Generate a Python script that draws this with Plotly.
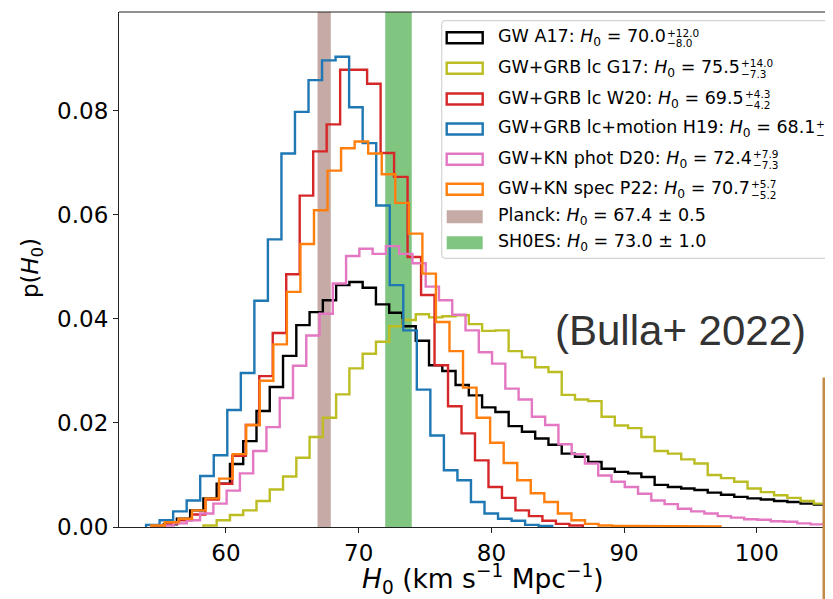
import numpy as np
import plotly.graph_objects as go

# ---------------- data ----------------
names = ["GW A17", "GW+GRB lc G17", "GW+GRB lc W20", "GW+GRB lc+motion H19",
         "GW+KN phot D20", "GW+KN spec P22"]
h0_med = ["70.0", "75.5", "69.5", "68.1", "72.4", "70.7"]
h0_up = ["+12.0", "+14.0", "+4.3", "+4.5", "+7.9", "+5.7"]
h0_lo = ["\u22128.0", "\u22127.3", "\u22124.2", "\u22124.3", "\u22127.3", "\u22125.2"]
colors = ["#000000", "#bcbd22", "#d62728", "#1f77b4", "#e377c2", "#ff7f0e"]

# histogram bin starts / widths (H0 units)
bin_start = [55.3, 58.3, 54.38, 53.98, 55.05, 54.38]
bin_width = [1.0, 1.0, 1.016, 1.02, 1.0, 1.021]

a17 = [0.0005, 0.0016, 0.0032, 0.0055, 0.0083, 0.0121, 0.0165, 0.0223, 0.0269, 0.0329,
       0.0388, 0.0413, 0.0436, 0.0465, 0.0471, 0.0460, 0.0428, 0.0412, 0.0386, 0.0358,
       0.0311, 0.0300, 0.0273, 0.0253, 0.0230, 0.0221, 0.0194, 0.0183, 0.0170, 0.0158,
       0.0141, 0.0135, 0.0125, 0.0112, 0.0106, 0.0103, 0.0096, 0.0081, 0.0077, 0.0074,
       0.0071, 0.0066, 0.0062, 0.0058, 0.0055, 0.0053, 0.0050, 0.0048, 0.0045, 0.0043,
       0.0040]
g17 = [0.0003, 0.0013, 0.0023, 0.0032, 0.0050, 0.0072, 0.0097, 0.0133, 0.0173, 0.0210,
       0.0255, 0.0305, 0.0333, 0.0356, 0.0386, 0.0398, 0.0409, 0.0403, 0.0405, 0.0407,
       0.0390, 0.0377, 0.0378, 0.0338, 0.0326, 0.0307, 0.0298, 0.0254, 0.0245, 0.0242,
       0.0212, 0.0195, 0.0190, 0.0173, 0.0146, 0.0141, 0.0130, 0.0122, 0.0100, 0.0094,
       0.0087, 0.0074, 0.0067, 0.0061, 0.0056, 0.0050, 0.0045, 0.0042]
w20 = [0.0003, 0.0007, 0.0013, 0.0024, 0.0053, 0.0083, 0.0137, 0.0196, 0.0290, 0.0373,
       0.0486, 0.0637, 0.0722, 0.0774, 0.0879, 0.0879, 0.0852, 0.0719, 0.0673, 0.0519,
       0.0446, 0.0311, 0.0232, 0.0180, 0.0128, 0.0077, 0.0056, 0.0032, 0.0021, 0.0012,
       0.0006, 0.0003]
h19 = [0.0004, 0.0013, 0.0030, 0.0051, 0.0098, 0.0138, 0.0225, 0.0296, 0.0435, 0.0553,
       0.0718, 0.0798, 0.0859, 0.0897, 0.0904, 0.0807, 0.0738, 0.0618, 0.0465, 0.0378,
       0.0264, 0.0176, 0.0109, 0.0090, 0.0048, 0.0026, 0.0016, 0.0012, 0.0004, 0.0002]
d20 = [0.0003, 0.0007, 0.0013, 0.0026, 0.0045, 0.0070, 0.0103, 0.0146, 0.0192, 0.0248,
       0.0310, 0.0368, 0.0410, 0.0468, 0.0521, 0.0535, 0.0525, 0.0540, 0.0525, 0.0507,
       0.0462, 0.0436, 0.0408, 0.0378, 0.0336, 0.0314, 0.0266, 0.0245, 0.0212, 0.0196,
       0.0159, 0.0140, 0.0122, 0.0099, 0.0087, 0.0077, 0.0064, 0.0051, 0.0044, 0.0035,
       0.0030, 0.0026, 0.0021, 0.0018, 0.0015, 0.0014, 0.0011, 0.0010, 0.0007, 0.0005,
       0.0008]
p22 = [0.0003, 0.0009, 0.0016, 0.0032, 0.0055, 0.0093, 0.0140, 0.0196, 0.0281, 0.0351,
       0.0452, 0.0544, 0.0609, 0.0685, 0.0728, 0.0741, 0.0718, 0.0678, 0.0623, 0.0564,
       0.0487, 0.0394, 0.0338, 0.0268, 0.0210, 0.0162, 0.0123, 0.0090, 0.0065, 0.0048,
       0.0026, 0.0013, 0.0006, 0.0003, 0.0002, 0.0002, 0.0001, 0.0001, 0.0001, 0.0001,
       0.0001, 0.0001]
series = [a17, g17, w20, h19, d20, p22]

planck_h0, planck_err = 67.4, 0.5
shoes_h0, shoes_err = 73.0, 1.0
band_labels = ["Planck", "SH0ES"]

x_ticks = [60, 70, 80, 90, 100]
y_ticks = [0.00, 0.02, 0.04, 0.06, 0.08]
x_range = [51.94, 105.74]
y_range = [0.0, 0.099]

# ---------------- layout geometry ----------------
# the page body has an 8px margin, so the figure is sized to end at the window edge
OFF = 8
W, H = 833 - OFF, 599 - OFF
ML, MR, MT, MB = 111, 0, 4, 72
PW, PH = W - ML - MR, H - MT - MB
FONT = "DejaVu Sans"
X0_WIN = OFF + ML            # left edge of plot in window pixels
Y1_WIN = OFF + H - MB        # bottom edge of plot in window pixels


def px2x(px):
    return (px - X0_WIN) / PW


def py2y(py):
    return (Y1_WIN - py) / PH


def step_xy(start, width, vals):
    v = np.asarray(vals, dtype=float)
    edges = start + width * np.arange(len(v) + 1)
    xs = np.repeat(edges, 2)
    ys = np.concatenate([[0.0], np.repeat(v, 2), [0.0]])
    return xs, ys


fig = go.Figure()
for s0, bw, vals, col, nm in zip(bin_start, bin_width, series, colors, names):
    xs, ys = step_xy(s0, bw, vals)
    fig.add_trace(go.Scatter(x=xs, y=ys, mode="lines", name=nm,
                             line=dict(color=col, width=2.4),
                             hoverinfo="skip", showlegend=False))

# reference bands
fig.add_vrect(x0=planck_h0 - planck_err, x1=planck_h0 + planck_err,
              fillcolor="rgba(140,86,75,0.5)", line_width=0, layer="below")
fig.add_vrect(x0=shoes_h0 - shoes_err, x1=shoes_h0 + shoes_err,
              fillcolor="rgba(44,160,44,0.6)", line_width=0, layer="below")

shapes = []
annotations = []

# top spine
shapes.append(dict(type="line", xref="paper", yref="paper", x0=0, x1=1.02, y0=1, y1=1,
                   line=dict(color="#222222", width=1.2), layer="above"))

# ---------------- custom legend ----------------
lx0, lx1, ly0, ly1, rad = 441.7, 860, 20.7, 258.3, 4
path = (f"M {px2x(lx0 + rad)},{py2y(ly0)} L {px2x(lx1)},{py2y(ly0)} "
        f"L {px2x(lx1)},{py2y(ly1)} L {px2x(lx0 + rad)},{py2y(ly1)} "
        f"Q {px2x(lx0)},{py2y(ly1)} {px2x(lx0)},{py2y(ly1 - rad)} "
        f"L {px2x(lx0)},{py2y(ly0 + rad)} "
        f"Q {px2x(lx0)},{py2y(ly0)} {px2x(lx0 + rad)},{py2y(ly0)} Z")
shapes.append(dict(type="path", xref="paper", yref="paper", path=path,
                   fillcolor="rgba(255,255,255,0.9)", line=dict(color="#d4d4d4", width=1.2),
                   layer="above"))

row_y = [37.7, 68.3, 99.0, 129.0, 159.3, 189.3, 216.7, 242.7]
sw_x0, sw_x1, text_x = 446.7, 482.7, 496.0
LFS = 17.5          # legend font size
SFS = 10.5          # stacked super/subscript font size

# DejaVu Sans advance widths (em) for width estimate of the legend strings
cw = {" ": .318, "+": .838, "-": .361, ":": .337, ".": .318, "=": .838, "A": .684,
      "B": .686, "D": .770, "G": .775, "H": .752, "K": .656, "N": .748, "P": .603,
      "R": .695, "W": .989, "c": .550, "h": .634, "i": .278, "l": .278, "m": .974,
      "n": .634, "o": .612, "p": .635, "s": .521, "t": .392}


def str_w(s):
    return sum(cw.get(ch, .636) for ch in s)


for i, (nm, med, up, lo, col) in enumerate(zip(names, h0_med, h0_up, h0_lo, colors)):
    yc = row_y[i]
    shapes.append(dict(type="rect", xref="paper", yref="paper",
                       x0=px2x(sw_x0), x1=px2x(sw_x1), y0=py2y(yc + 5.5), y1=py2y(yc - 5.5),
                       line=dict(color=col, width=2.4), fillcolor="rgba(0,0,0,0)", layer="above"))
    annotations.append(dict(xref="paper", yref="paper", x=px2x(text_x), y=py2y(yc),
                            xanchor="left", yanchor="middle", showarrow=False,
                            text=f"{nm}: <i>H</i><sub>0</sub> = {med}",
                            font=dict(family=FONT, size=LFS, color="black")))
    wem = str_w(nm + ": ") + .752 + 0.7 * .636 + str_w(" = ") + str_w(med)
    sx = text_x + wem * LFS + 1
    annotations.append(dict(xref="paper", yref="paper", x=px2x(sx), y=py2y(yc - 5.0),
                            xanchor="left", yanchor="middle", showarrow=False, text=up,
                            font=dict(family=FONT, size=SFS, color="black")))
    annotations.append(dict(xref="paper", yref="paper", x=px2x(sx), y=py2y(yc + 5.5),
                            xanchor="left", yanchor="middle", showarrow=False, text=lo,
                            font=dict(family=FONT, size=SFS, color="black")))

band_cols = ["rgba(140,86,75,0.5)", "rgba(44,160,44,0.6)"]
band_txt = [f"{band_labels[0]}: <i>H</i><sub>0</sub> = {planck_h0:.1f} \u00b1 {planck_err:.1f}",
            f"{band_labels[1]}: <i>H</i><sub>0</sub> = {shoes_h0:.1f} \u00b1 {shoes_err:.1f}"]
for j in range(2):
    yc = row_y[6 + j]
    shapes.append(dict(type="rect", xref="paper", yref="paper",
                       x0=px2x(sw_x0), x1=px2x(sw_x1), y0=py2y(yc + 6.5), y1=py2y(yc - 6.5),
                       line=dict(width=0), fillcolor=band_cols[j], layer="above"))
    annotations.append(dict(xref="paper", yref="paper", x=px2x(text_x), y=py2y(yc),
                            xanchor="left", yanchor="middle", showarrow=False, text=band_txt[j],
                            font=dict(family=FONT, size=LFS, color="black")))

# citation
annotations.append(dict(xref="paper", yref="paper", x=px2x(680), y=py2y(330),
                        xanchor="center", yanchor="middle", showarrow=False,
                        text="(Bulla+ 2022)",
                        font=dict(family="Liberation Sans", size=42, color="#333333")))

# axis titles
annotations.append(dict(xref="paper", yref="paper", x=px2x(483), y=py2y(579),
                        xanchor="center", yanchor="middle", showarrow=False,
                        text="<i>H</i><sub>0</sub> (km s<sup>\u22121</sup> Mpc<sup>\u22121</sup>)",
                        font=dict(family=FONT, size=26.5, color="black")))
annotations.append(dict(xref="paper", yref="paper", x=px2x(32), y=py2y(268),
                        xanchor="center", yanchor="middle", showarrow=False, textangle=-90,
                        text="p(<i>H</i><sub>0</sub>)",
                        font=dict(family=FONT, size=23, color="black")))

# slide overlay frame at the right
shapes.append(dict(type="rect", xref="paper", yref="paper", x0=px2x(825), x1=px2x(870),
                   y0=py2y(640), y1=py2y(380), fillcolor="white",
                   line=dict(color="#c48a48", width=5), layer="above"))

fig.update_layout(
    width=W, height=H, autosize=False,
    margin=dict(l=ML, r=MR, t=MT, b=MB, pad=0),
    paper_bgcolor="white", plot_bgcolor="white",
    showlegend=False,
    shapes=list(fig.layout.shapes) + shapes,
    annotations=annotations,
    xaxis=dict(range=x_range, tickvals=x_ticks, ticks="outside", ticklen=5, tickwidth=1.2,
               tickcolor="#222222", showline=True, linecolor="#222222", linewidth=1.2,
               showgrid=False, zeroline=False,
               tickfont=dict(family=FONT, size=23, color="black")),
    yaxis=dict(range=y_range, tickvals=y_ticks, tickformat=".2f", ticks="outside",
               ticklen=5, tickwidth=1.2, tickcolor="#222222", showline=True,
               linecolor="#222222", linewidth=1.2, showgrid=False, zeroline=False,
               tickfont=dict(family=FONT, size=23, color="black")),
)

fig.write_html("out.html")
